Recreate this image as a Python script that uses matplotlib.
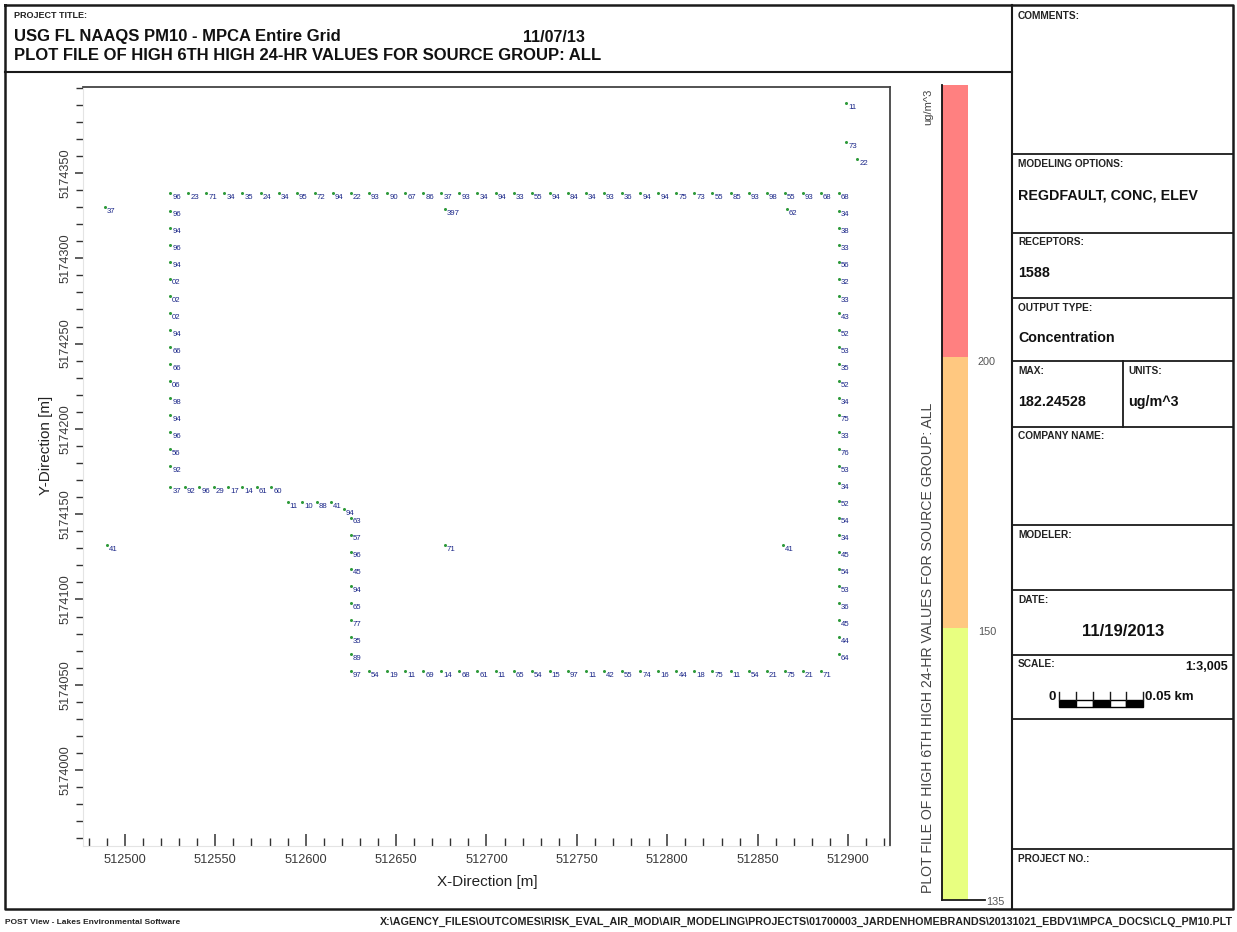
import numpy as np
import matplotlib
matplotlib.use("Agg")
import matplotlib.pyplot as plt
from matplotlib.lines import Line2D
from matplotlib.patches import Rectangle
from matplotlib.ticker import MultipleLocator

plt.rcParams['font.family'] = ['Liberation Sans', 'DejaVu Sans']

# ---------------- data ----------------
# fence-line receptors (UTM metres) and displayed concentration labels
top_x = [512525, 512535, 512545, 512555, 512565, 512575, 512585, 512595, 512605, 512615,
         512625, 512635, 512645, 512655, 512665, 512675, 512685, 512695, 512705, 512715,
         512725, 512735, 512745, 512755, 512765, 512775, 512785, 512795, 512805, 512815,
         512825, 512835, 512845, 512855, 512865, 512875, 512885, 512895]
top_y = 5174338
top_v = [96, 23, 71, 34, 35, 24, 34, 95, 72, 94, 22, 93, 90, 67, 86, 37, 93, 34, 94,
         33, 55, 94, 84, 34, 93, 36, 94, 94, 75, 73, 55, 85, 93, 98, 55, 93, 68, 68]

left_x = 512525
left_y = [5174328, 5174318, 5174308, 5174298, 5174288, 5174278, 5174268, 5174258,
          5174248, 5174238, 5174228, 5174218, 5174208, 5174198, 5174188, 5174178]
left_v = [96, 94, 96, 94, 2, 2, 2, 94, 66, 66, 6, 98, 94, 96, 56, 92]

stepa_x = [512525, 512533, 512541, 512549, 512557, 512565, 512573, 512581]
stepa_y = 5174166
stepa_v = [37, 92, 96, 29, 17, 14, 61, 60]

stepb_x = [512590, 512598, 512606, 512614, 512621]
stepb_y = [5174157, 5174157, 5174157, 5174157, 5174153]
stepb_v = [11, 10, 88, 41, 94]

notch_x = 512625
notch_y = [5174148, 5174138, 5174128, 5174118, 5174108, 5174098, 5174088, 5174078, 5174068]
notch_v = [63, 57, 96, 45, 94, 65, 77, 35, 89]

bottom_y = 5174058
bottom_x = [512625, 512635, 512645, 512655, 512665, 512675, 512685, 512695, 512705,
            512715, 512725, 512735, 512745, 512755, 512765, 512775, 512785, 512795,
            512805, 512815, 512825, 512835, 512845, 512855, 512865, 512875, 512885]
bottom_v = [97, 54, 19, 11, 69, 14, 68, 61, 11, 65, 54, 15, 97, 11, 42, 55, 74, 16,
            44, 18, 75, 11, 54, 21, 75, 21, 71]

right_x = 512895
right_y = [5174328, 5174318, 5174308, 5174298, 5174288, 5174278, 5174268, 5174258,
           5174248, 5174238, 5174228, 5174218, 5174208, 5174198, 5174188, 5174178,
           5174168, 5174158, 5174148, 5174138, 5174128, 5174118, 5174108, 5174098,
           5174088, 5174078, 5174068]
right_v = [34, 38, 33, 56, 32, 33, 43, 52, 53, 35, 52, 34, 75, 33, 76, 53, 34, 52,
           54, 34, 45, 54, 53, 36, 45, 44, 64]

extra_x = [512489, 512490, 512677, 512864, 512899, 512899, 512905, 512677, 512866]
extra_y = [5174330, 5174132, 5174132, 5174132, 5174391, 5174368, 5174358, 5174329, 5174329]
extra_v = [37, 41, 71, 41, 11, 73, 22, 397, 62]

# colour legend
legend_levels = [135, 150, 200]
legend_colors = ['#E8FF80', '#FFC880', '#FF8080']

x_ticks = [512500, 512550, 512600, 512650, 512700, 512750, 512800, 512850, 512900]
y_ticks = [5174000, 5174050, 5174100, 5174150, 5174200, 5174250, 5174300, 5174350]

# ---------------- figure ----------------
W, H = 1237, 932
fig = plt.figure(figsize=(W / 100, H / 100), dpi=100)
fig.patch.set_facecolor('white')


def fxy(x, y):
    return x / W, 1 - y / H


def T(x, y, s, **kw):
    X, Y = fxy(x, y)
    kw.setdefault('va', 'center')
    kw.setdefault('ha', 'left')
    return fig.text(X, Y, s, **kw)


def L(xs, ys, lw=1.3, c='#1a1a1a'):
    fig.add_artist(Line2D([x / W for x in xs], [1 - y / H for y in ys], lw=lw, color=c,
                          solid_capstyle='projecting'))


# frame lines
L([5, 1233, 1233, 5, 5], [5, 5, 909, 909, 5], lw=1.8)
L([5, 1012], [72, 72], lw=1.5)
L([1012, 1012], [5, 909], lw=1.5)
for yy in [154, 233, 298, 361, 427, 525, 590, 655, 719, 849]:
    L([1012, 1233], [yy, yy], lw=1.3)
L([1123, 1123], [361, 427], lw=1.3)

# title block
hdr = dict(fontsize=7.3, fontweight='bold', color='#222222')
big = dict(fontsize=12, fontweight='bold', color='#111111')
T(14, 15, 'PROJECT TITLE:', fontsize=6.5, fontweight='bold', color='#222222')
T(14, 37, 'USG FL NAAQS PM10 - MPCA Entire Grid', **big)
T(523, 37, '11/07/13', fontsize=11.5, fontweight='bold', color='#111111')
T(14, 56, 'PLOT FILE OF HIGH 6TH HIGH 24-HR VALUES FOR SOURCE GROUP: ALL', **big)

# right panel
val = dict(fontsize=10.3, fontweight='bold', color='#111111')
T(1018, 16, 'COMMENTS:', **hdr)
T(1018, 164, 'MODELING OPTIONS:', **hdr)
T(1018, 195, 'REGDFAULT, CONC, ELEV', **val)
T(1018, 242, 'RECEPTORS:', **hdr)
T(1018, 273, '1588', **val)
T(1018, 308, 'OUTPUT TYPE:', **hdr)
T(1018, 338, 'Concentration', **val)
T(1018, 371, 'MAX:', **hdr)
T(1018, 402, '182.24528', **val)
T(1128, 371, 'UNITS:', **hdr)
T(1128, 402, 'ug/m^3', **val)
T(1018, 436, 'COMPANY NAME:', **hdr)
T(1018, 535, 'MODELER:', **hdr)
T(1018, 600, 'DATE:', **hdr)
T(1123, 631, '11/19/2013', fontsize=12, fontweight='bold', color='#111111', ha='center')
T(1018, 664, 'SCALE:', **hdr)
T(1228, 667, '1:3,005', fontsize=9, fontweight='bold', color='#111111', ha='right')
T(1018, 859, 'PROJECT NO.:', **hdr)

# scale bar
T(1056, 697, '0', fontsize=9.5, fontweight='bold', color='#111111', ha='right')
T(1145, 697, '0.05 km', fontsize=9.5, fontweight='bold', color='#111111')
seg = [1059, 1076, 1093, 1110, 1126, 1143]
for i in range(5):
    X0, Y0 = fxy(seg[i], 707)
    fig.add_artist(Rectangle((X0, Y0), (seg[i + 1] - seg[i]) / W, 7 / H,
                             facecolor='black' if i % 2 == 0 else 'white',
                             edgecolor='black', lw=1.0))
for sx in seg:
    L([sx, sx], [692, 700], lw=1.0)

# footer
T(5, 922, 'POST View - Lakes Environmental Software', fontsize=6, fontweight='bold',
  color='#222222')
T(1233, 922, r'X:\AGENCY_FILES\OUTCOMES\RISK_EVAL_AIR_MOD\AIR_MODELING\PROJECTS\01700003'
  r'_JARDENHOMEBRANDS\20131021_EBDV1\MPCA_DOCS\CLQ_PM10.PLT',
  fontsize=7.75, fontweight='bold', color='#222222', ha='right')

# ---------------- main map axes ----------------
ax_l, ax_r, ax_t, ax_b = 83, 890, 87, 846
ax = fig.add_axes([ax_l / W, 1 - ax_b / H, (ax_r - ax_l) / W, (ax_b - ax_t) / H])
ax.set_xlim(512476.8, 512923.2)
ax.set_ylim(5173955.5, 5174400.4)

for side in ['top', 'right']:
    ax.spines[side].set_color('#444444')
    ax.spines[side].set_linewidth(1.3)
for side in ['left', 'bottom']:
    ax.spines[side].set_color('#e4e4e4')
    ax.spines[side].set_linewidth(0.8)

ax.set_xticks(x_ticks)
ax.set_xticklabels([str(v) for v in x_ticks])
ax.set_yticks(y_ticks)
ax.set_yticklabels([str(v) for v in y_ticks], rotation=90, va='center')
ax.xaxis.set_minor_locator(MultipleLocator(10))
ax.yaxis.set_minor_locator(MultipleLocator(10))
ax.tick_params(axis='x', which='major', direction='in', length=9, width=1.1,
               color='#333333', labelsize=9.2, labelcolor='#3a3a3a', pad=6)
ax.tick_params(axis='x', which='minor', direction='in', length=6, width=1.0, color='#333333')
ax.tick_params(axis='y', which='major', direction='out', length=6, width=1.1,
               color='#333333', labelsize=9.2, labelcolor='#3a3a3a', pad=2)
ax.tick_params(axis='y', which='minor', direction='out', length=5, width=1.0, color='#333333')

T(487, 882, 'X-Direction [m]', fontsize=11, color='#222222', ha='center')
T(46, 445, 'Y-Direction [m]', fontsize=11, color='#222222', ha='center', rotation=90)


def plot_receptors(xs, ys, vs):
    xs = np.broadcast_to(np.asarray(xs, float), (len(vs),))
    ys = np.broadcast_to(np.asarray(ys, float), (len(vs),))
    ax.plot(xs, ys, 'o', ms=2.2, color='#2e9a3a', mec='none', zorder=3)
    for x, y, v in zip(xs, ys, vs):
        ax.annotate(f'{v:02d}', (x, y), xytext=(1.5, -0.5), textcoords='offset points',
                    fontsize=5.6, color='#1a2688', ha='left', va='top', zorder=4)


plot_receptors(top_x, top_y, top_v)
plot_receptors(left_x, left_y, left_v)
plot_receptors(stepa_x, stepa_y, stepa_v)
plot_receptors(stepb_x, stepb_y, stepb_v)
plot_receptors(notch_x, notch_y, notch_v)
plot_receptors(bottom_x, bottom_y, bottom_v)
plot_receptors(right_x, right_y, right_v)
plot_receptors(extra_x, extra_y, extra_v)

# ---------------- colour legend ----------------
cb_l, cb_r, cb_t, cb_b = 942, 968, 85, 900
cax = fig.add_axes([cb_l / W, 1 - cb_b / H, (cb_r - cb_l) / W, (cb_b - cb_t) / H])
n = len(legend_levels)
cax.bar([0] * n, [1] * n, bottom=list(range(n)), width=1.0, color=legend_colors,
        edgecolor='none')
cax.set_xlim(-0.5, 0.5)
cax.set_ylim(0, n)
cax.set_xticks([])
cax.set_yticks([])
for s in ['top', 'right', 'bottom']:
    cax.spines[s].set_visible(False)
cax.spines['left'].set_color('#111111')
cax.spines['left'].set_linewidth(1.3)
L([942, 985], [900, 900], lw=1.3)

lab_y = [902, 632, 362]
for lv, yy in zip(legend_levels, lab_y):
    T(986 if lv == 135 else 978, yy, str(lv), fontsize=7.8, color='#555555')
T(928, 107, 'ug/m^3', fontsize=8, color='#444444', rotation=90, ha='center')
T(928, 648, 'PLOT FILE OF HIGH 6TH HIGH 24-HR VALUES FOR SOURCE GROUP: ALL',
  fontsize=10.2, color='#444444', rotation=90, ha='center')

fig.savefig('out.png', dpi=100, facecolor='white')
